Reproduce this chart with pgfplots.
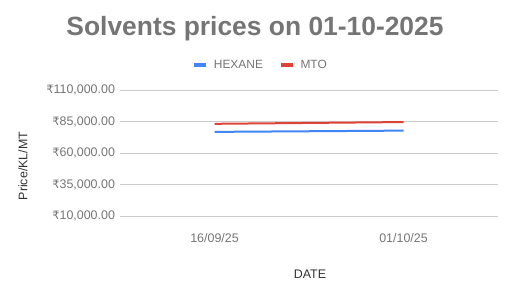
\documentclass[border=0pt]{standalone}
\usepackage{fontspec}
\setmainfont{Liberation Sans}
\newfontfamily\rupeefont{DejaVu Sans}
\newcommand{\R}{{\rupeefont\fontsize{11.5}{14}\selectfont ₹}}
\usepackage{pgfplots}
\pgfplotsset{compat=1.18}
\definecolor{tgray}{HTML}{757575}
\definecolor{lgray}{HTML}{333333}
\definecolor{gridc}{HTML}{CCCCCC}
\definecolor{hblue}{HTML}{4285F4}
\definecolor{mred}{HTML}{DB4437}
\begin{document}
\begin{tikzpicture}[x=1bp,y=1bp]
\useasboundingbox (0,0) rectangle (513,297);
\begin{axis}[
  at={(120bp,80.7bp)}, anchor=south west,
  width=378bp, height=126bp, scale only axis,
  xmin=-0.5, xmax=1.5, ymin=10000, ymax=110000,
  scaled y ticks=false,
  xtick={0,1}, xticklabels={16/09/25,01/10/25},
  ytick={10000,35000,60000,85000,110000},
  yticklabels={{\R10,000.00},{\R35,000.00},{\R60,000.00},{\R85,000.00},{\R110,000.00}},
  ymajorgrids, grid style={gridc, line width=1bp},
  axis line style={draw=none}, tick style={draw=none},
  ticklabel style={font=\fontsize{12.5}{14}\selectfont, text=tgray},
  xticklabel style={yshift=-14bp},
  yticklabel style={xshift=-1.5bp},
  legend style={at={(0.372,1.2)}, anchor=center, draw=none, fill=none,
    legend columns=2, font=\fontsize{12}{14}\selectfont, text=tgray,
    /tikz/every even column/.append style={column sep=14bp},
    /tikz/every odd column/.append style={column sep=4bp}},
  legend image code/.code={\draw[#1, line width=3.5bp] (0bp,0bp) -- (12bp,0bp);},
]
\addplot[hblue, line width=2bp] coordinates {(0,77000) (1,78000)};
\addlegendentry{HEXANE}
\addplot[mred, line width=2bp] coordinates {(0,83400) (1,84800)};
\addlegendentry{MTO}
\end{axis}
\node[font=\bfseries\fontsize{26.5}{30}\selectfont, text=tgray] at (255,268.5) {Solvents prices on 01-10-2025};
\node[font=\fontsize{12.5}{14}\selectfont, text=lgray] at (310,23) {DATE};
\node[font=\fontsize{12.5}{14}\selectfont, text=lgray, rotate=90] at (23,131) {Price/KL/MT};
\end{tikzpicture}
\end{document}
